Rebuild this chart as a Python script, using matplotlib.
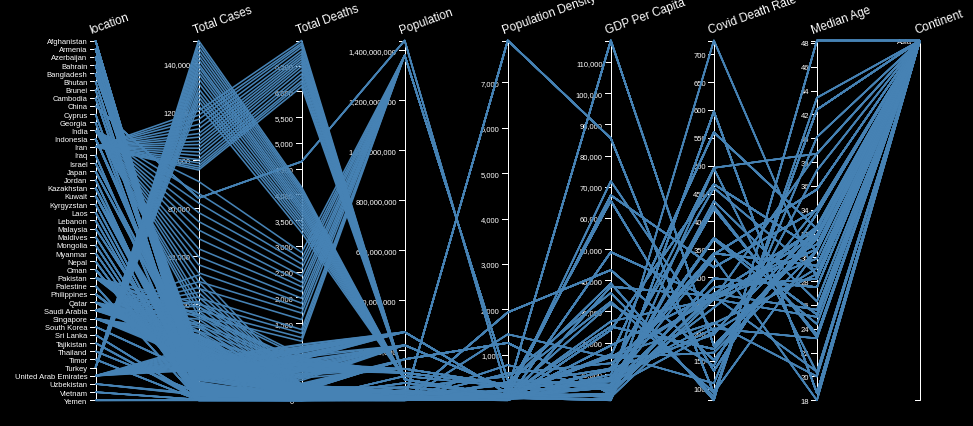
import pandas as pd
import matplotlib
matplotlib.use("Agg")
import matplotlib.pyplot as plt
from matplotlib.collections import LineCollection

# Asian countries, daily rows (early/mid May 2020)
locations = [
    "Afghanistan", "Armenia", "Azerbaijan", "Bahrain", "Bangladesh", "Bhutan",
    "Brunei", "Cambodia", "China", "Cyprus", "Georgia", "India", "Indonesia",
    "Iran", "Iraq", "Israel", "Japan", "Jordan", "Kazakhstan", "Kuwait",
    "Kyrgyzstan", "Laos", "Lebanon", "Malaysia", "Maldives", "Mongolia",
    "Myanmar", "Nepal", "Oman", "Pakistan", "Palestine", "Philippines", "Qatar",
    "Saudi Arabia", "Singapore", "South Korea", "Sri Lanka", "Tajikistan",
    "Thailand", "Timor", "Turkey", "United Arab Emirates", "Uzbekistan",
    "Vietnam", "Yemen",
]

population = [
    38928341, 2963234, 10139175, 1701583, 164689383, 771612,
    437483, 16718971, 1439323774, 875899, 3989175, 1380004385, 273523621,
    83992953, 40222503, 8655541, 126476458, 10203140, 18776707, 4270563,
    6524191, 7275556, 6825442, 32365998, 540542, 3278292,
    54409794, 29136808, 5106622, 220892331, 5101416, 109581085, 2881060,
    34813867, 5850343, 51269183, 21413250, 9537642,
    69799978, 1318442, 84339067, 9890400, 33469199,
    97338583, 29825968,
]

pop_density = [
    54.42, 102.93, 119.31, 1935.91, 1265.04, 21.19,
    81.35, 90.67, 147.67, 127.66, 65.03, 450.42, 145.73,
    49.83, 88.13, 402.61, 347.78, 109.29, 6.68, 232.13,
    32.33, 29.72, 594.56, 96.25, 1454.43, 1.98,
    81.72, 204.43, 14.98, 255.57, 778.20, 351.87, 227.32,
    15.32, 7915.73, 527.97, 341.96, 64.28,
    135.13, 87.18, 104.91, 112.44, 76.13,
    308.13, 53.51,
]

gdp_per_capita = [
    1804, 8788, 15847, 43291, 3524, 8709,
    71809, 3645, 15309, 32415, 9745, 6427, 11189,
    19083, 15664, 33132, 39002, 8337, 24056, 65531,
    3393, 6397, 13368, 26808, 15184, 11841,
    5592, 2443, 37961, 5035, 4450, 7599, 116936,
    49045, 85535, 35938, 11669, 2897,
    16278, 6570, 25129, 67293, 6253,
    6172, 1479,
]

covid_death_rate = [
    597.0, 341.0, 559.8, 151.7, 298.0, 217.1,
    201.3, 270.9, 261.9, 141.2, 496.2, 282.3, 342.9,
    270.3, 218.6, 93.3, 79.4, 208.3, 466.8, 132.2,
    436.4, 368.1, 266.6, 260.9, 164.9, 460.0,
    202.1, 260.8, 266.3, 423.0, 265.9, 370.4, 176.7,
    259.5, 92.2, 86.0, 197.1, 427.7,
    109.9, 335.3, 171.3, 317.8, 724.4,
    245.5, 495.0,
]

median_age = [
    18.6, 35.7, 32.4, 32.4, 27.5, 28.6,
    32.4, 25.6, 38.7, 37.3, 38.7, 28.2, 29.3,
    32.4, 20.0, 30.6, 48.2, 23.2, 30.6, 33.7,
    26.3, 24.4, 31.1, 29.9, 30.6, 28.6,
    29.1, 25.0, 30.7, 23.5, 20.4, 25.2, 31.9,
    31.9, 42.4, 43.4, 34.1, 23.3,
    40.1, 18.0, 31.6, 34.0, 28.2,
    32.6, 20.3,
]

continent = "Asia"

total_cases = {
    "Afghanistan": [2171, 2335, 2469, 2704, 2894, 3224, 3392, 3563, 3778, 4033, 4402, 4687, 4963, 5226, 5639, 6053, 6402],
    "Armenia": [2148, 2273, 2386, 2507, 2619, 2782, 2884, 3029, 3175, 3313, 3392, 3538, 3718, 3860, 4044, 4283, 4472],
    "Azerbaijan": [1804, 1854, 1932, 1984, 2060, 2127, 2204, 2279, 2321, 2422, 2519, 2589, 2693, 2758, 2879, 2980, 3138],
    "Bahrain": [3040, 3284, 3383, 3534, 3720, 3934, 4199, 4444, 4774, 4941, 5236, 5531, 5842, 6198, 6583, 6747, 6956],
    "Bangladesh": [8238, 8790, 9455, 10143, 10929, 11719, 12425, 13134, 13770, 14657, 15691, 16660, 17822, 18863, 20065, 20995, 22268],
    "Bhutan": [7, 7, 7, 21, 21],
    "Brunei": [138, 138, 139, 141, 141],
    "Cambodia": [122, 122, 122, 122, 122],
    "China": [83959, 83968, 83990, 84018, 84044],
    "Cyprus": [857, 864, 883, 892, 910],
    "Georgia": [517, 582, 626, 682, 695],
    "India": [35043, 37336, 39980, 42533, 46433, 49391, 52952, 56342, 59662, 62939, 67152, 70756, 74281, 78003, 81970, 85940, 90927],
    "Indonesia": [10118, 10551, 10843, 11192, 11587, 12071, 12438, 12776, 13112, 13645, 14032, 14265, 14749, 15438, 16006, 16496, 17025],
    "Iran": [95646, 96448, 97424, 98647, 99970, 101650, 103135, 104691, 106220, 107603, 109286, 110767, 112725, 114533, 116635, 118392, 120198],
    "Iraq": [2085, 2346, 2603, 2913, 3260],
    "Israel": [15946, 16101, 16237, 16436, 16492, 16589],
    "Japan": [14305, 14839, 15231, 15463, 15649, 15798, 15968, 16120, 16237],
    "Jordan": [459, 473, 523, 576, 608],
    "Kazakhstan": [3290, 3597, 3878, 4049, 4205, 4422, 4578, 4690, 4834, 4975, 5126, 5207, 5279, 5417, 5571, 5689, 5850],
    "Kuwait": [4024, 4377, 4619, 4983, 5278, 5804, 6289, 7208, 7623, 8688, 9286, 10277, 11028, 11975, 12860, 13802, 14850],
    "Kyrgyzstan": [746, 830, 895, 1016, 1117],
    "Laos": [19, 19, 19, 19, 19],
    "Lebanon": [729, 741, 784, 878, 902],
    "Malaysia": [6002, 6298, 6589, 6779, 6872],
    "Maldives": [519, 616, 835, 940, 1091],
    "Mongolia": [38, 41, 42, 136, 136],
    "Myanmar": [151, 161, 178, 181, 182],
    "Nepal": [57, 82, 134, 249, 291],
    "Oman": [2447, 2483, 2568, 2637, 2735, 2903, 2958, 3112, 3224, 3399, 3573, 3721, 4019, 4341, 4625, 5029, 5186],
    "Pakistan": [16817, 18114, 19103, 20084, 21501, 22550, 24073, 25837, 26435, 28736, 30941, 32081, 34336, 35298, 35788, 38799, 40151],
    "Palestine": [344, 353, 375, 375, 375],
    "Philippines": [8772, 8928, 9223, 9485, 9684, 10004, 10343, 10463, 10610, 10794, 11086, 11350, 11618, 11876, 12091, 12305, 12513],
    "Qatar": [13409, 14096, 14872, 15551, 16191, 16751, 17142, 17972, 18890, 20201, 21331, 22520, 23623, 25149, 26539, 28272, 30972],
    "Saudi Arabia": [22753, 24097, 25459, 27011, 28656, 30251, 31938, 33731, 35432, 37136, 39048, 41014, 42925, 44830, 46869, 49176, 52016],
    "Singapore": [16169, 17101, 17548, 18205, 18778, 19410, 20198, 20939, 21707, 22460, 23336, 23822, 24671, 25346, 26098, 26891, 27356],
    "South Korea": [10774, 10810, 10874, 10962, 11050],
    "Sri Lanka": [665, 771, 847, 915, 960],
    "Tajikistan": [15, 230, 522, 729, 1118],
    "Thailand": [2954, 2989, 3009, 3017, 3025],
    "Timor": [24, 24, 24, 24, 24],
    "Turkey": [122392, 124375, 126045, 127659, 129491, 131744, 133721, 135569, 137115, 138657, 139771, 141475, 143114, 144749, 146457, 148067, 149435],
    "United Arab Emirates": [12481, 13038, 13599, 14163, 14730, 15192, 15738, 16240, 16793, 17417, 18198, 18878, 19661, 20386, 21084, 21831, 22627],
    "Uzbekistan": [2149, 2298, 2486, 2612, 2740],
    "Vietnam": [270, 271, 288, 314, 318],
    "Yemen": [6, 12, 34, 85, 130],
}

total_deaths = {
    "Afghanistan": [64, 68, 72, 85, 90, 95, 104, 106, 109, 115, 120, 122, 127, 132, 136, 153, 168],
    "Armenia": [33, 33, 33, 34, 35, 35, 39, 40, 43, 44, 45, 47, 48, 49, 52, 55, 57],
    "Azerbaijan": [24, 24, 25, 25, 26, 27, 28, 28, 28, 31, 31, 32, 32, 33, 35, 35, 36],
    "Bahrain": [8, 8, 8, 8, 8, 8, 8, 8, 8, 8, 8, 8, 9, 10, 10, 11, 12],
    "Bangladesh": [170, 175, 177, 182, 183, 186, 199, 206, 214, 228, 239, 250, 269, 283, 298, 314, 328],
    "Bhutan": [0, 0, 0, 0, 0],
    "Brunei": [1, 1, 1, 1, 1],
    "Cambodia": [0, 0, 0, 0, 0],
    "China": [4637, 4637, 4637, 4637, 4637],
    "Cyprus": [15, 15, 15, 17, 17],
    "Georgia": [6, 8, 10, 12, 12],
    "India": [1147, 1218, 1301, 1373, 1568, 1694, 1783, 1886, 1981, 2109, 2206, 2293, 2415, 2549, 2649, 2752, 2872],
    "Indonesia": [792, 800, 831, 845, 864, 872, 895, 930, 943, 959, 973, 991, 1007, 1028, 1043, 1076, 1089],
    "Iran": [6091, 6156, 6203, 6277, 6340, 6418, 6486, 6541, 6589, 6640, 6685, 6733, 6783, 6854, 6902, 6937, 6988],
    "Iraq": [92, 102, 106, 115, 121],
    "Israel": [222, 232, 240, 252, 263, 271],
    "Japan": [432, 492, 521, 551, 576, 621, 668, 697, 725],
    "Jordan": [9, 9, 9, 9, 9],
    "Kazakhstan": [25, 25, 25, 25, 27, 30, 31, 31, 32, 32, 32, 32, 32, 34, 34, 34, 34],
    "Kuwait": [26, 30, 30, 38, 38, 40, 42, 47, 49, 58, 65, 75, 82, 88, 96, 107, 112],
    "Kyrgyzstan": [8, 10, 12, 12, 14],
    "Laos": [0, 0, 0, 0, 0],
    "Lebanon": [24, 25, 26, 26, 26],
    "Malaysia": [102, 105, 108, 112, 113],
    "Maldives": [1, 1, 3, 4, 4],
    "Mongolia": [0, 0, 0, 0, 0],
    "Myanmar": [6, 6, 6, 6, 6],
    "Nepal": [0, 0, 0, 0, 1],
    "Oman": [12, 12, 13, 13, 13, 15, 17, 17, 17, 17, 17, 17, 17, 17, 17, 20, 22],
    "Pakistan": [385, 417, 440, 457, 476, 514, 564, 594, 599, 636, 667, 706, 737, 761, 770, 834, 873],
    "Palestine": [2, 2, 2, 2, 2],
    "Philippines": [579, 603, 607, 623, 637, 658, 685, 696, 704, 719, 726, 751, 772, 790, 806, 817, 824],
    "Qatar": [10, 12, 12, 12, 12, 12, 12, 12, 12, 12, 14, 14, 14, 14, 14, 14, 15],
    "Saudi Arabia": [162, 169, 176, 184, 191, 200, 209, 219, 229, 239, 246, 255, 264, 273, 283, 292, 302],
    "Singapore": [15, 16, 17, 18, 18, 18, 20, 20, 20, 20, 20, 21, 21, 21, 21, 21, 22],
    "South Korea": [248, 254, 256, 260, 262],
    "Sri Lanka": [7, 9, 9, 9, 9],
    "Tajikistan": [0, 3, 12, 20, 33],
    "Thailand": [54, 55, 56, 56, 56],
    "Timor": [0, 0, 0, 0, 0],
    "Turkey": [3258, 3336, 3397, 3461, 3520, 3584, 3641, 3689, 3739, 3786, 3841, 3894, 3952, 4007, 4055, 4096, 4140],
    "United Arab Emirates": [105, 111, 119, 126, 137, 146, 157, 165, 174, 185, 198, 201, 203, 206, 208, 210, 214],
    "Uzbekistan": [9, 10, 10, 10, 12],
    "Vietnam": [0, 0, 0, 0, 0],
    "Yemen": [2, 2, 7, 12, 20],
}

dims = ["location", "Total Cases", "Total Deaths", "Population", "Population Density",
        "GDP Per Capita", "Covid Death Rate", "Median Age", "Continent"]

ticks = {
    "Total Cases": [20000, 40000, 60000, 80000, 100000, 120000, 140000],
    "Total Deaths": [0, 500, 1000, 1500, 2000, 2500, 3000, 3500, 4000, 4500, 5000, 5500, 6000, 6500],
    "Population": [200000000, 400000000, 600000000, 800000000, 1000000000, 1200000000, 1400000000],
    "Population Density": [1000, 2000, 3000, 4000, 5000, 6000, 7000],
    "GDP Per Capita": [10000, 20000, 30000, 40000, 50000, 60000, 70000, 80000, 90000, 100000, 110000],
    "Covid Death Rate": [100, 150, 200, 250, 300, 350, 400, 450, 500, 550, 600, 650, 700],
    "Median Age": [18, 20, 22, 24, 26, 28, 30, 32, 34, 36, 38, 40, 42, 44, 46, 48],
}

rows = []
for i, loc in enumerate(locations):
    for c, d in zip(total_cases[loc], total_deaths[loc]):
        rows.append({
            "location": loc, "Total Cases": c, "Total Deaths": d,
            "Population": population[i], "Population Density": pop_density[i],
            "GDP Per Capita": gdp_per_capita[i], "Covid Death Rate": covid_death_rate[i],
            "Median Age": median_age[i], "Continent": continent,
        })
df = pd.DataFrame(rows)

# pixel layout
W, H = 973, 427
X0, X1 = 95.5, 920.0
Y_TOP, Y_BOT = 41.5, 401.3
axis_x = {d: X0 + (X1 - X0) * k / (len(dims) - 1) for k, d in enumerate(dims)}

extents = {d: (df[d].min(), df[d].max()) for d in dims[1:-1]}


def to_y(dim, v):
    if dim == "location":
        return Y_TOP + locations.index(v) * (Y_BOT - Y_TOP) / (len(locations) - 1)
    if dim == "Continent":
        return Y_TOP
    lo, hi = extents[dim]
    return Y_BOT - (v - lo) / (hi - lo) * (Y_BOT - Y_TOP)


FONT = ["Liberation Sans", "DejaVu Sans"]
PX = 0.72  # points per pixel at 100 dpi

fig = plt.figure(figsize=(W / 100, H / 100), dpi=100, facecolor="black")
ax = fig.add_axes([0, 0, 1, 1])
ax.set_xlim(0, W)
ax.set_ylim(H, 0)
ax.set_facecolor("black")
ax.axis("off")

segs = []
for _, r in df.iterrows():
    segs.append([(axis_x[d], to_y(d, r[d])) for d in dims])
ax.add_collection(LineCollection(segs, colors="#4682b4", linewidths=1.6 * PX, zorder=3))

tick_len = 5.5
for d in dims:
    x = axis_x[d]
    ax.plot([x - tick_len, x, x, x - tick_len], [Y_TOP, Y_TOP, Y_BOT, Y_BOT],
            color="white", lw=1 * PX, zorder=2, solid_joinstyle="miter")
    if d == "location":
        tv = [(to_y(d, n), n) for n in locations]
    elif d == "Continent":
        tv = [(Y_TOP, continent)]
    else:
        tv = [(to_y(d, v), f"{v:,}") for v in ticks[d]]
    for y, lab in tv:
        ax.plot([x - tick_len, x], [y, y], color="white", lw=1 * PX, zorder=2)
        ax.text(x - 8, y, lab, color="white", fontsize=7.6 * PX, family=FONT,
                ha="right", va="center_baseline", zorder=1)
    ax.text(x - 4, 34, d, color="white", fontsize=11.8 * PX, family=FONT,
            rotation=20, rotation_mode="anchor", ha="left", va="baseline", zorder=4)

fig.savefig("out.png", dpi=100, facecolor="black")
